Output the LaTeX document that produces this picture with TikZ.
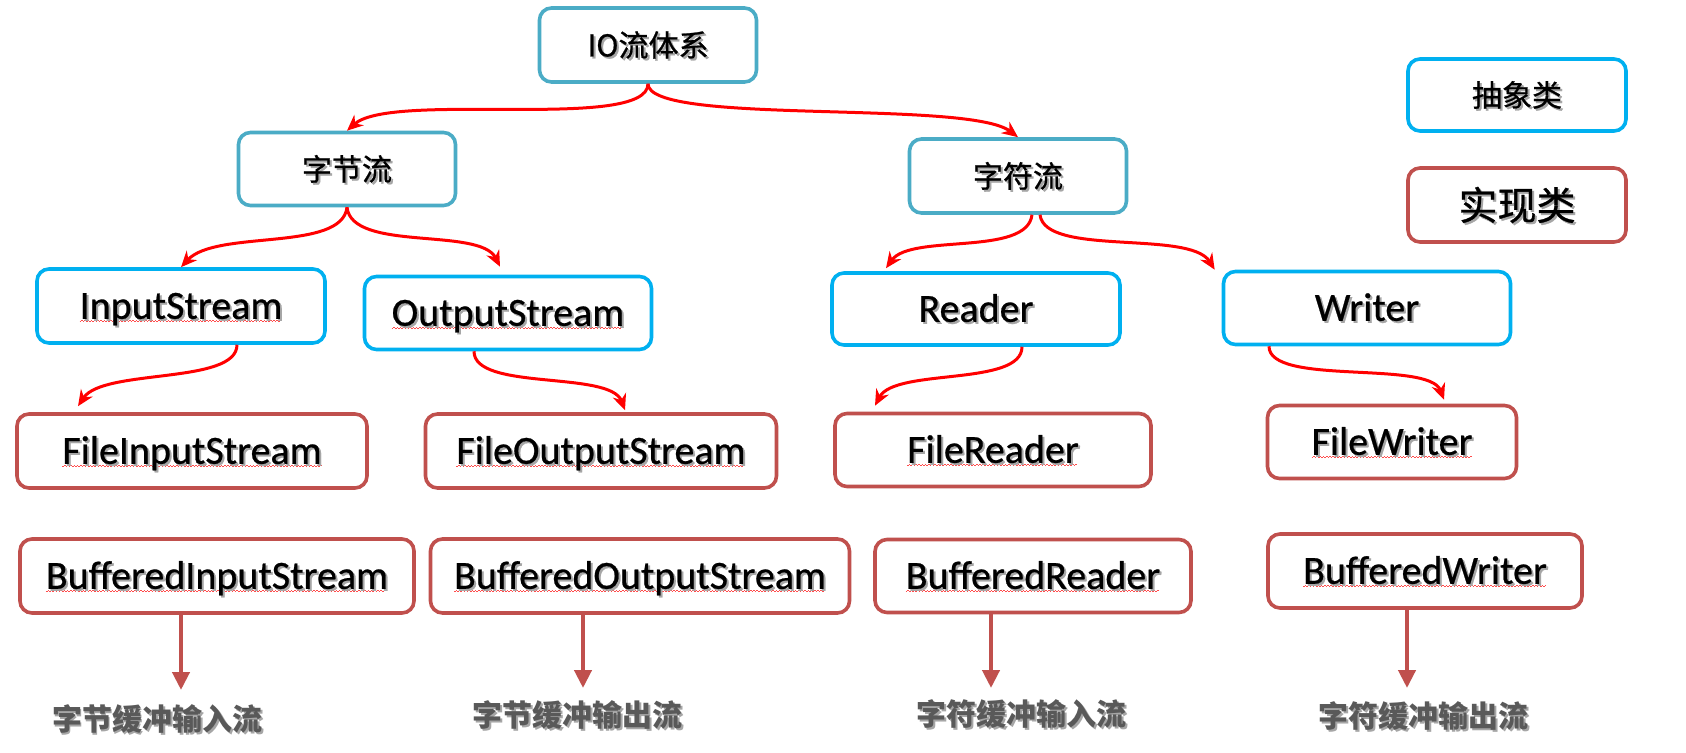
\documentclass[tikz,border=0pt]{standalone}
\usepackage{fontspec}
\setmainfont{Carlito}[FakeBold=0.6]
\newfontfamily\cjk{Noto Sans CJK SC}[FakeBold=0.8]
\newfontfamily\cjkb{Noto Sans CJK SC}
\usetikzlibrary{arrows.meta,calc}
\definecolor{tealb}{HTML}{4BACC6}
\definecolor{skyb}{HTML}{00B0F0}
\definecolor{brick}{HTML}{C0504D}
\definecolor{capgray}{HTML}{595959}
\newcommand\shd[1]{\leavevmode\rlap{\kern1pt\raisebox{-1pt}{\color{black!35}#1}}#1}
\newcommand\sq[1]{\leavevmode\setbox0\hbox{#1}\rlap{\raisebox{-1.6pt}{\color{red!70}\leaders\hbox to 1.6pt{\rule[0pt]{0.8pt}{0.45pt}\rule[0.45pt]{0.8pt}{0.45pt}}\hskip\wd0}}#1}
\begin{document}
\begin{tikzpicture}[x=0.5pt,y=-0.5pt,
  box/.style={draw, rounded corners=6pt, line width=1.8pt, fill=white, align=center, inner sep=0pt},
  sz/.style 2 args={minimum width=#1*0.5pt, minimum height=#2*0.5pt},
  abst/.style={box, draw=tealb},
  absc/.style={box, draw=skyb},
  implc/.style={box, draw=brick},
  en/.style={font=\fontsize{20}{24}\selectfont, text height=16.8pt, text depth=4pt},
  zh/.style={font=\fontsize{15}{18}\selectfont\cjk, text height=13.2pt, text depth=1.8pt},
  zhbig/.style={font=\fontsize{19.5}{23}\selectfont\cjk, text height=17.2pt, text depth=2.3pt},
  lbl/.style={font=\fontsize{15}{18}\selectfont\cjkb\bfseries, text=capgray, inner sep=0pt},
  rarr/.style={draw=red, line width=1.5pt, -{Stealth[length=8pt,width=7pt]}},
  darr/.style={draw=brick, line width=2.1pt, -{Triangle[length=9pt,width=8.5pt]}}
]
\useasboundingbox[fill=white] (0,0) rectangle (1686,753);

% top level
\node[abst, sz={217}{74}, zh] (io) at (648,45) {\shd{IO流体系}};
\node[abst, sz={217}{73}, zh] (bs) at (347,169) {\shd{字节流}};
\node[abst, sz={217}{74}, zh] (cs) at (1018,176) {\shd{字符流}};

% legend
\node[absc, sz={218}{72}, zh] (abs) at (1517,95) {\shd{抽象类}};
\node[implc, sz={218}{74}, zhbig] (impl) at (1517,205) {\shd{实现类}};

% abstract classes
\node[absc, sz={288}{74}, en] (is) at (181,306) {\sq{\shd{InputStream}}};
\node[absc, sz={287}{73}, en] (os) at (508,313) {\sq{\shd{OutputStream}}};
\node[absc, sz={288}{72}, en] (rd) at (976,309) {\shd{Reader}};
\node[absc, sz={287}{73}, en] (wr) at (1367,308) {\shd{Writer}};

% file classes
\node[implc, sz={350}{74}, en] (fis) at (192,451) {\sq{\shd{FileInputStream}}};
\node[implc, sz={351}{74}, en] (fos) at (601,451) {\sq{\shd{FileOutputStream}}};
\node[implc, sz={316}{73}, en] (fr) at (993,450) {\sq{\shd{FileReader}}};
\node[implc, sz={249}{73}, en] (fw) at (1392,442) {\sq{\shd{FileWriter}}};

% buffered classes
\node[implc, sz={394}{74}, en] (bis) at (217,576) {\sq{\shd{BufferedInputStream}}};
\node[implc, sz={419}{74}, en] (bos) at (640,576) {\sq{\shd{BufferedOutputStream}}};
\node[implc, sz={316}{73}, en] (br) at (1033,576) {\sq{\shd{BufferedReader}}};
\node[implc, sz={314}{74}, en] (bw) at (1425,571) {\sq{\shd{BufferedWriter}}};

% bottom labels
\node[lbl] (l1) at (157,720) {\shd{字节缓冲输入流}};
\node[lbl] (l2) at (577,716) {\shd{字节缓冲输出流}};
\node[lbl] (l3) at (1021,715) {\shd{字符缓冲输入流}};
\node[lbl] (l4) at (1423,717) {\shd{字符缓冲输出流}};

% red curved arrows
\draw[rarr] (io.south) .. controls +(0,48) and +(45,-40) .. (bs.north);
\draw[rarr] (io.south) .. controls +(0,42) and +(-50,-38) .. (cs.north);
\draw[rarr] (bs.south) .. controls +(-5,45) and +(35,-38) .. (is.north);
\draw[rarr] (bs.south) .. controls +(5,45) and +(-20,-40) .. ([xshift=-4pt,yshift=4pt]os.north);
\draw[rarr] ([xshift=7pt]cs.south) .. controls +(-5,42) and +(25,-35) .. ([xshift=-45pt,yshift=1.5pt]rd.north);
\draw[rarr] ([xshift=11pt]cs.south) .. controls +(5,42) and +(-25,-40) .. ([xshift=-3.5pt]wr.north west);
\draw[rarr] ([xshift=28pt]is.south) .. controls +(0,40) and +(25,-38) .. ([xshift=-57pt,yshift=3pt]fis.north);
\draw[rarr] ([xshift=-17pt]os.south) .. controls +(0,40) and +(-15,-40) .. ([xshift=12pt,yshift=1pt]fos.north);
\draw[rarr] ([xshift=23pt]rd.south) .. controls +(0,40) and +(20,-38) .. ([xshift=-59pt,yshift=3pt]fr.north);
\draw[rarr] ([xshift=-49pt]wr.south) .. controls +(0,40) and +(-15,-40) .. ([xshift=26pt,yshift=2pt]fw.north);

% dark vertical arrows
\coordinate (t1) at (181,690);
\coordinate (t2) at (583,688);
\coordinate (t3) at (991,688);
\coordinate (t4) at (1407,688);
\draw[darr] (bis.south -| t1) -- (t1);
\draw[darr] (bos.south -| t2) -- (t2);
\draw[darr] (br.south -| t3) -- (t3);
\draw[darr] (bw.south -| t4) -- (t4);
\end{tikzpicture}
\end{document}
